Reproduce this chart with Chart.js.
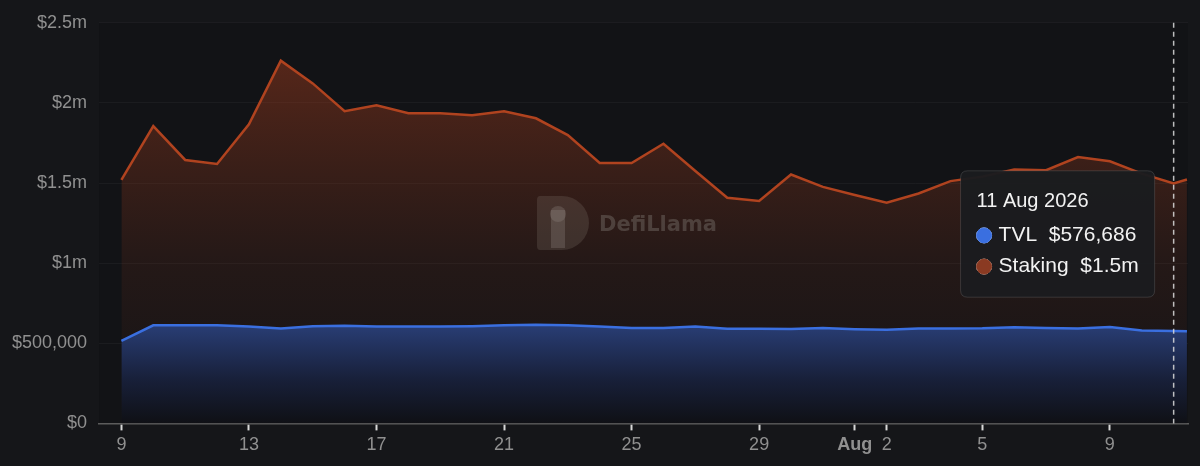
<!DOCTYPE html>
<html>
<head>
<meta charset="utf-8">
<script src="https://cdn.jsdelivr.net/npm/chart.js@4"></script>
<style>
  html, body { margin: 0; padding: 0; background: #151619; }
  #wrap { width: 1200px; height: 466px; position: relative; }
</style>
</head>
<body>
<div id="wrap"><canvas id="tvl-chart"></canvas></div>
<script>
// daily points, Jul 9 -> Aug 11 2026, plus the live point later on Aug 11
const dates = [
  "2026-07-09", "2026-07-10", "2026-07-11", "2026-07-12", "2026-07-13", "2026-07-14",
  "2026-07-15", "2026-07-16", "2026-07-17", "2026-07-18", "2026-07-19", "2026-07-20",
  "2026-07-21", "2026-07-22", "2026-07-23", "2026-07-24", "2026-07-25", "2026-07-26",
  "2026-07-27", "2026-07-28", "2026-07-29", "2026-07-30", "2026-07-31", "2026-08-01",
  "2026-08-02", "2026-08-03", "2026-08-04", "2026-08-05", "2026-08-06", "2026-08-07",
  "2026-08-08", "2026-08-09", "2026-08-10", "2026-08-11", "2026-08-11T10:00:00Z",
];

const tvl = [
  515000, 612000, 613000, 612000, 604000, 592000, 606000, 610000, 605000, 605000,
  604000, 606000, 612000, 616000, 612000, 604000, 596000, 596000, 604000, 590000,
  590000, 589000, 596000, 588000, 584000, 592000, 593000, 594000, 600000, 596000,
  592000, 602000, 580000, 576686, 575000,
];

const staking = [
  1520000, 1855000, 1644000, 1619000, 1867000, 2264000, 2122000, 1948000, 1985000, 1935000,
  1935000, 1923000, 1948000, 1904000, 1799000, 1625000, 1625000, 1745000, 1575000, 1408000,
  1388000, 1553000, 1476000, 1425000, 1377000, 1435000, 1512000, 1540000, 1585000, 1580000,
  1662000, 1636000, 1559000, 1498000, 1522000,
];

const xTickDates = [
  "2026-07-09", "2026-07-13", "2026-07-17", "2026-07-21", "2026-07-25",
  "2026-07-29", "2026-08-01", "2026-08-02", "2026-08-05", "2026-08-09",
];
const xTickLabels = ["9", "13", "17", "21", "25", "29", "Aug", "2", "5", "9"];

const yTicks = [0, 500000, 1000000, 1500000, 2000000, 2500000];

const hoverIndex = 33;

const tvlColor = "#3a6fe0";
const stakingColor = "#b0431f";
const stakingDot = "#8a3a22";
const labelGray = "#909090";

const startMs = Date.parse("2026-07-09T00:00:00Z");
const toDay = (s) =>
  (Date.parse(s.length === 10 ? s + "T00:00:00Z" : s) - startMs) / 86400000;

const fmtUsd = (v) => {
  if (v >= 1e6) return "$" + parseFloat((v / 1e6).toFixed(1)) + "m";
  return "$" + Math.round(v).toLocaleString("en-US");
};

const toPoints = (arr) => arr.map((v, i) => ({ x: toDay(dates[i]), y: v }));

Chart.defaults.font.family = "'Liberation Sans', Arial, sans-serif";

Chart.Tooltip.positioners.pinned = function (items) {
  if (!items.length) return false;
  return { x: items[0].element.x - 17, y: 234 };
};

const bgPlugin = {
  id: "areaBg",
  beforeDraw(chart) {
    const { ctx, chartArea: a } = chart;
    ctx.save();
    ctx.fillStyle = "#121316";
    ctx.fillRect(a.left, a.top, a.right - a.left, a.bottom - a.top);
    ctx.restore();
  },
};

const watermark = {
  id: "watermark",
  afterDatasetsDraw(chart) {
    const ctx = chart.ctx;
    ctx.save();
    // rough "D" badge
    ctx.fillStyle = "rgba(140,130,125,0.22)";
    ctx.beginPath();
    ctx.moveTo(540, 196);
    ctx.lineTo(562, 196);
    ctx.arc(562, 223, 27, -Math.PI / 2, Math.PI / 2);
    ctx.lineTo(540, 250);
    ctx.quadraticCurveTo(537, 250, 537, 246);
    ctx.lineTo(537, 200);
    ctx.quadraticCurveTo(537, 196, 540, 196);
    ctx.fill();
    ctx.fillStyle = "rgba(150,140,135,0.28)";
    ctx.fillRect(551, 210, 14, 38);
    ctx.beginPath();
    ctx.arc(558, 214, 8, 0, Math.PI * 2);
    ctx.fill();
    ctx.font = "bold 21px 'DejaVu Sans', sans-serif";
    ctx.fillStyle = "rgba(150,145,140,0.32)";
    ctx.textBaseline = "middle";
    ctx.fillText("DefiLlama", 599, 226);
    ctx.restore();
  },
};

const crosshair = {
  id: "crosshair",
  afterDatasetsDraw(chart) {
    const act = chart.tooltip.getActiveElements();
    if (!act.length) return;
    const x = act[0].element.x;
    const { ctx, chartArea: a } = chart;
    ctx.save();
    ctx.strokeStyle = "rgba(220,220,220,0.85)";
    ctx.lineWidth = 1.5;
    ctx.setLineDash([5, 4]);
    ctx.beginPath();
    ctx.moveTo(x, a.top);
    ctx.lineTo(x, a.bottom);
    ctx.stroke();
    ctx.restore();
  },
};

const tvlFill = (c) => {
  const { chart } = c;
  const a = chart.chartArea;
  if (!a) return "rgba(39,57,107,1)";
  const top = chart.scales.y.getPixelForValue(620000);
  const g = chart.ctx.createLinearGradient(0, top, 0, a.bottom);
  g.addColorStop(0, "#293e76");
  g.addColorStop(0.55, "#18203a");
  g.addColorStop(1, "#0f1015");
  return g;
};

const stakingFill = (c) => {
  const a = c.chart.chartArea;
  if (!a) return "rgba(160,60,28,0.3)";
  const g = c.chart.ctx.createLinearGradient(0, a.top, 0, a.bottom);
  g.addColorStop(0, "rgba(168,62,30,0.52)");
  g.addColorStop(0.6, "rgba(140,55,28,0.15)");
  g.addColorStop(1, "rgba(120,50,28,0.03)");
  return g;
};

const config = {
  type: "line",
  data: {
    datasets: [
      {
        label: "TVL",
        data: toPoints(tvl),
        borderColor: tvlColor,
        backgroundColor: tvlFill,
        borderWidth: 2.5,
        fill: "origin",
        pointRadius: 0,
        pointHoverRadius: 0,
        tension: 0,
      },
      {
        label: "Staking",
        data: toPoints(staking),
        borderColor: stakingColor,
        backgroundColor: stakingFill,
        borderWidth: 2.5,
        fill: "origin",
        pointRadius: 0,
        pointHoverRadius: 0,
        tension: 0,
      },
    ],
  },
  options: {
    responsive: true,
    maintainAspectRatio: false,
    animation: false,
    layout: { padding: { left: 0, right: 12, top: 8, bottom: 6 } },
    interaction: { mode: "index", intersect: false },
    plugins: {
      legend: { display: false },
      tooltip: {
        position: "pinned",
        xAlign: "right",
        yAlign: "center",
        caretSize: 0,
        backgroundColor: "rgba(27,28,31,0.97)",
        borderColor: "rgba(255,255,255,0.13)",
        borderWidth: 1,
        cornerRadius: 7,
        titleColor: "#f2f2f2",
        bodyColor: "#f2f2f2",
        titleFont: { size: 20, weight: "normal" },
        bodyFont: { size: 21 },
        padding: { top: 19, bottom: 18, left: 16, right: 16 },
        titleMarginBottom: 9,
        bodySpacing: 6,
        usePointStyle: true,
        boxWidth: 15,
        boxHeight: 15,
        boxPadding: 5,
        callbacks: {
          title: (items) =>
            new Date(Date.parse(dates[items[0].dataIndex] + "T00:00:00Z")).toLocaleDateString(
              "en-GB",
              { day: "numeric", month: "short", year: "numeric", timeZone: "UTC" }
            ),
          label: (item) => `${item.dataset.label}  ${fmtUsd(item.parsed.y)}`,
          labelColor: (item) => {
            const col = item.datasetIndex === 0 ? tvlColor : stakingDot;
            return { borderColor: col, backgroundColor: col };
          },
          labelPointStyle: () => ({ pointStyle: "circle", rotation: 0 }),
        },
      },
    },
    scales: {
      x: {
        type: "linear",
        min: -0.7,
        max: 33.45,
        afterBuildTicks: (scale) => {
          scale.ticks = xTickDates.map((d) => ({ value: toDay(d) }));
        },
        grid: {
          drawOnChartArea: false,
          drawTicks: true,
          tickLength: 7,
          tickColor: "#d8d8d8",
          tickWidth: 2,
        },
        border: { display: true, color: "#5c5c5c", width: 1.5 },
        ticks: {
          autoSkip: false,
          maxRotation: 0,
          padding: 4,
          color: labelGray,
          font: (c) => ({
            size: 18,
            weight: xTickLabels[c.index] === "Aug" ? "bold" : "normal",
          }),
          callback: (value, index) => xTickLabels[index],
        },
      },
      y: {
        min: 0,
        max: 2500000,
        afterBuildTicks: (scale) => {
          scale.ticks = yTicks.map((v) => ({ value: v }));
        },
        grid: { color: "rgba(255,255,255,0.04)", drawTicks: false },
        border: { display: false },
        ticks: {
          padding: 12,
          color: labelGray,
          font: { size: 18 },
          callback: (value) => fmtUsd(value),
        },
      },
    },
  },
  plugins: [bgPlugin, crosshair, watermark],
};

const tvlChart = new Chart(document.getElementById("tvl-chart"), config);

const hoverEls = [
  { datasetIndex: 0, index: hoverIndex },
  { datasetIndex: 1, index: hoverIndex },
];
const hx = tvlChart.getDatasetMeta(0).data[hoverIndex].x;
tvlChart.tooltip.setActiveElements(hoverEls, { x: hx, y: 234 });
tvlChart.update();
</script>
</body>
</html>
